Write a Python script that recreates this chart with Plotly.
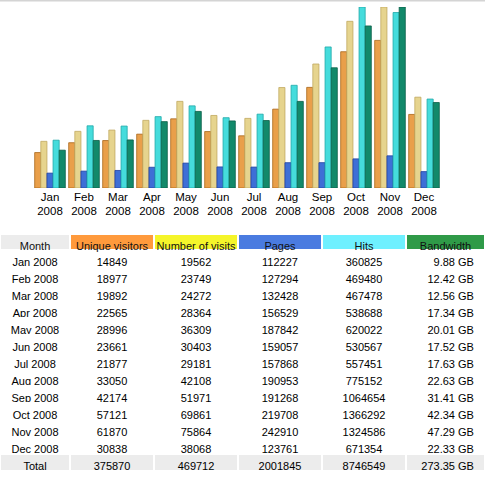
import plotly.graph_objects as go

months = ["Jan", "Feb", "Mar", "Apr", "May", "Jun",
          "Jul", "Aug", "Sep", "Oct", "Nov", "Dec"]
year = "2008"

unique_visitors = [14849, 18977, 19892, 22565, 28996, 23661,
                   21877, 33050, 42174, 57121, 61870, 30838]
visits = [19562, 23749, 24272, 28364, 36309, 30403,
          29181, 42108, 51971, 69861, 75864, 38068]
pages = [112227, 127294, 132428, 156529, 187842, 159057,
         157868, 190953, 191268, 219708, 242910, 123761]
hits = [360825, 469480, 467478, 538688, 620022, 530567,
        557451, 775152, 1064654, 1366292, 1324586, 671354]
bandwidth_gb = [9.88, 12.42, 12.56, 17.34, 20.01, 17.52,
                17.63, 22.63, 31.41, 42.34, 47.29, 22.33]

# totals row as printed in the report
totals = ["375870", "469712", "2001845", "8746549", "273.35 GB"]

headers = ["Month", "Unique visitors", "Number of visits", "Pages", "Hits", "Bandwidth"]
header_colors = ["#ececec", "#ff9a3c", "#f5f52a", "#4a7be0", "#6ef0ff", "#2f9a48"]

# bar colours: visitors, visits, pages, hits, bandwidth
bar_colors = ["#e99f4a", "#e6d48e", "#3e6fd6", "#45dcdc", "#12896a"]
edge_colors = ["#a86418", "#c0a860", "#2040a0", "#20a8a8", "#0a5e48"]

cats = [f"{m}<br>{year}" for m in months]

fig = go.Figure()

# visitors & visits share the visits scale, pages & hits share the hits scale
series = [
    (unique_visitors, "y"),
    (visits, "y"),
    (pages, "y2"),
    (hits, "y2"),
    (bandwidth_gb, "y3"),
]
for i, (vals, ax) in enumerate(series):
    fig.add_trace(go.Bar(
        x=cats, y=vals, yaxis=ax,
        width=0.18, offset=-0.45 + i * 0.18,
        marker=dict(color=bar_colors[i],
                    line=dict(color=edge_colors[i], width=0.8)),
        hoverinfo="y", showlegend=False,
    ))

fnt = "Liberation Sans, Arial, sans-serif"
dom = [1 - 188 / 478, 1 - 7 / 478]
hidden = dict(visible=False, domain=dom, fixedrange=True)
fig.update_layout(
    width=485, height=478,
    margin=dict(l=0, r=0, t=0, b=0),
    paper_bgcolor="white", plot_bgcolor="white",
    font=dict(family=fnt, size=11, color="#000000"),
    barmode="overlay",
    xaxis=dict(domain=[33 / 485, 441 / 485], showgrid=False, showline=False,
               ticks="", tickfont=dict(size=11.5, color="#000000"),
               fixedrange=True),
    yaxis=dict(range=[0, max(visits)], **hidden),
    yaxis2=dict(range=[0, max(hits)], overlaying="y", **hidden),
    yaxis3=dict(range=[0, max(bandwidth_gb)], overlaying="y", **hidden),
)

# table
nb = "\u00a0"
row_labels = [f"{m}{nb}{year}" for m in months] + ["Total"]


def fmt_bw(v):
    return f"{v:.2f}{nb}GB{nb}"


cols = [
    row_labels,
    [str(v) for v in unique_visitors] + [totals[0]],
    [str(v) for v in visits] + [totals[1]],
    [str(v) for v in pages] + [totals[2]],
    [str(v) for v in hits] + [totals[3]],
    [fmt_bw(v) for v in bandwidth_gb] + [totals[4].replace(" ", nb) + nb],
]
n = len(row_labels)
cell_fill = ["white"] * (n - 1) + ["#ececec"]

fig.add_trace(go.Table(
    domain=dict(x=[0, 1], y=[0, 1 - 234 / 478]),
    columnwidth=[70, 84, 84, 84, 84, 79],
    header=dict(values=[h.replace(" ", nb) for h in headers],
                fill_color=header_colors,
                line=dict(color="white", width=2),
                align="center", height=16,
                font=dict(family=fnt, size=11, color="#111111")),
    cells=dict(values=cols, fill_color=[cell_fill] * 6,
               line=dict(color="white", width=2),
               align=["center", "center", "center", "center", "center", "right"],
               height=17,
               font=dict(family=fnt, size=11, color="#000000")),
))

fig.add_shape(type="line", xref="paper", yref="paper",
              x0=0, x1=1, y0=1, y1=1,
              line=dict(color="#d4d4d4", width=3))

# page body margin would shift the fixed-size figure
fig.write_html("out.html",
               config={"displayModeBar": False},
               post_script="document.body.style.margin='0';"
                           "document.body.style.overflow='hidden';")
